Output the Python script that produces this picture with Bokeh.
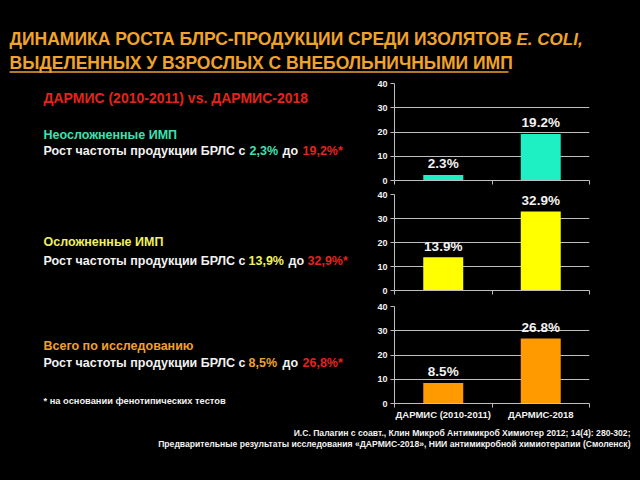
from bokeh.plotting import figure
from bokeh.layouts import column, row
from bokeh.models import Range1d, FixedTicker
from bokeh.core.properties import value
from bokeh.embed import file_html
from bokeh.resources import INLINE

# ---------------- data ----------------
periods = ["ДАРМИС (2010-2011)", "ДАРМИС-2018"]
uncomplicated = [2.3, 19.2]
complicated = [13.9, 32.9]
total = [8.5, 26.8]
y_ticks = [0, 10, 20, 30, 40]

FONT = "Liberation Sans"
BG = "#000000"
WHITE = "#F2F2F2"
TITLE_C = "#F0A32A"
RED = "#E5231B"
CYAN_T = "#3EE0B2"
YELLOW_T = "#F0F060"
ORANGE_T = "#F0A030"
BAR_CYAN = "#1EF0C4"
BAR_YELLOW = "#FFFF00"
BAR_ORANGE = "#FF9A00"
GRID_C = "#BFBFBF"


def canvas(x0, x1, y0, y1):
    p = figure(width=int(x1 - x0), height=int(y1 - y0),
               x_range=Range1d(x0, x1), y_range=Range1d(y1, y0),
               output_backend="svg", toolbar_location=None,
               x_axis_type=None, y_axis_type=None, min_border=0,
               outline_line_color=None, background_fill_color=BG,
               border_fill_color=BG)
    return p


def txt(p, x, y, s, color, size, align="left", style="bold"):
    p.text(x=[x], y=[y], text=[s], text_color=color,
           text_font=value(FONT), text_font_size=f"{size}px",
           text_font_style=style, text_align=align, text_baseline="middle")


def pct(v):
    return f"{v:.1f}".replace(".", ",") + "%"


# ---------------- title ----------------
title = canvas(8, 632, 8, 78)
txt(title, 9, 38.5, "ДИНАМИКА РОСТА БЛРС-ПРОДУКЦИИ СРЕДИ ИЗОЛЯТОВ", TITLE_C, 17.5)
txt(title, 516, 38.5, "E. COLI,", TITLE_C, 17, style="bold italic")
txt(title, 9, 62.5, "ВЫДЕЛЕННЫХ У ВЗРОСЛЫХ С ВНЕБОЛЬНИЧНЫМИ ИМП", TITLE_C, 17.5)
title.line(x=[9, 508], y=[71.5, 71.5], line_color=TITLE_C, line_width=1.5)

# ---------------- left text ----------------
left = canvas(8, 360, 78, 422)
txt(left, 43, 97.5, "ДАРМИС (2010-2011) vs. ДАРМИС-2018", RED, 14)

sections = [
    ("Неосложненные ИМП", CYAN_T, uncomplicated, 134, 150.5, (249, 282, 302)),
    ("Осложненные ИМП", YELLOW_T, complicated, 241.7, 260, (248, 288, 307)),
    ("Всего по исследованию", ORANGE_T, total, 345.7, 362.5, (248, 282, 302)),
]
for head, col, vals, yh, yl, xs in sections:
    txt(left, 43, yh, head, col, 12.5)
    txt(left, 43, yl, "Рост частоты продукции БРЛС с", WHITE, 12.5)
    txt(left, xs[0], yl, pct(vals[0]), col, 12.5)
    txt(left, xs[1], yl, "до", WHITE, 12.5)
    txt(left, xs[2], yl, pct(vals[1]) + "*", RED, 12.5)

txt(left, 43, 400.7, "* на основании фенотипических тестов", WHITE, 9.3)


# ---------------- bar charts ----------------
def bar_chart(vals, color, height, top, bottom, labels):
    p = figure(width=272, height=height, x_range=Range1d(0, 2),
               y_range=Range1d(0, 40), output_backend="svg",
               toolbar_location=None, min_border_left=34,
               min_border_right=43, min_border_top=top,
               min_border_bottom=bottom, background_fill_color=BG,
               border_fill_color=BG, outline_line_color=None)
    xs = [i + 0.5 for i in range(len(periods))]
    p.vbar(x=xs, top=vals, bottom=0, width=0.41, fill_color=color,
           line_color=None)
    p.text(x=xs, y=vals, text=[f"{v}%" for v in vals], text_color=WHITE,
           text_font=value(FONT), text_font_size="13.5px",
           text_font_style="bold", text_align="center",
           text_baseline="middle", y_offset=-11)

    p.xgrid.visible = False
    p.ygrid.grid_line_color = GRID_C
    p.ygrid.grid_line_width = 1.2
    p.yaxis.ticker = FixedTicker(ticks=y_ticks)
    p.yaxis.minor_tick_line_color = None
    p.yaxis.major_tick_in = 0
    p.yaxis.major_tick_out = 4
    p.yaxis.major_label_standoff = 3
    p.yaxis.axis_line_color = GRID_C
    p.yaxis.major_tick_line_color = GRID_C
    p.yaxis.major_label_text_color = WHITE
    p.yaxis.major_label_text_font = FONT
    p.yaxis.major_label_text_font_size = "9px"
    p.yaxis.major_label_text_font_style = "bold"

    if labels:
        p.xaxis.ticker = FixedTicker(ticks=xs, minor_ticks=[0, 1, 2])
        p.xaxis.major_label_overrides = {x: lab for x, lab in zip(xs, periods)}
        p.xaxis.major_label_text_font_size = "9.5px"
        p.xaxis.major_label_standoff = 1
    else:
        p.xaxis.ticker = FixedTicker(ticks=[], minor_ticks=[0, 1, 2])
        p.xaxis.major_label_standoff = 0
    p.xaxis.major_tick_line_color = None
    p.xaxis.major_tick_out = 0
    p.xaxis.major_tick_in = 0
    p.xaxis.minor_tick_in = 0
    p.xaxis.minor_tick_out = 4
    p.xaxis.minor_tick_line_color = GRID_C
    p.xaxis.axis_line_color = GRID_C
    p.xaxis.major_label_text_color = WHITE
    p.xaxis.major_label_text_font = FONT
    p.xaxis.major_label_text_font_style = "bold"
    return p


c1 = bar_chart(uncomplicated, BAR_CYAN, 112, 5, 10, False)
c2 = bar_chart(complicated, BAR_YELLOW, 108, 4, 8, False)
c3 = bar_chart(total, BAR_ORANGE, 124, 8, 19, True)

# ---------------- references ----------------
bottom = canvas(8, 632, 422, 472)
txt(bottom, 630, 432.3,
    "И.С. Палагин с соавт., Клин Микроб Антимикроб Химиотер 2012; 14(4): 280-302;",
    WHITE, 8.6, align="right")
txt(bottom, 630, 443.5,
    "Предварительные результаты исследования «ДАРМИС-2018», НИИ антимикробной химиотерапии (Смоленск)",
    WHITE, 8.6, align="right")

layout = column(title, row(left, column(c1, c2, c3, spacing=0), spacing=0),
                bottom, spacing=0)

html = file_html(layout, INLINE, title="chart")
html = html.replace(
    "</head>",
    "<style>html,body{background:#000000;} body{margin:8px;}</style></head>", 1)
open("out.html", "w").write(html)
